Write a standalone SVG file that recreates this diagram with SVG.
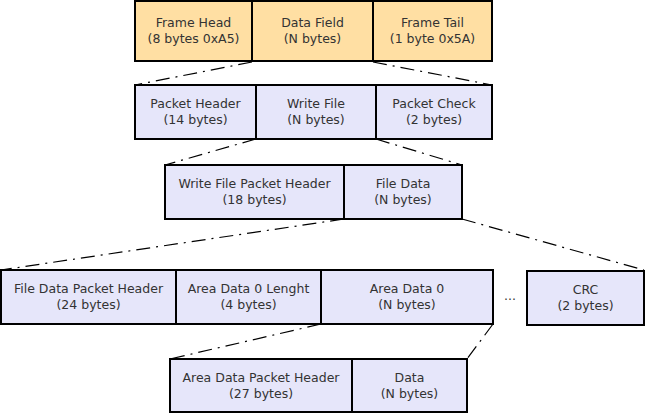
<svg xmlns="http://www.w3.org/2000/svg" width="648" height="416" viewBox="0 0 648 416">
<style>
.o{fill:#FFDFA3;stroke:#000;stroke-width:2}
.b{fill:#E6E6FA;stroke:#000;stroke-width:2}
text{font-family:"DejaVu Sans",sans-serif;font-size:12.5px;fill:#333;text-anchor:middle}
.c line{stroke:#000;stroke-width:1.2;stroke-dasharray:14,6,2,6;fill:none}
</style>
<rect width="648" height="416" fill="#fff"/>
<g class="c" id="connectors">
<line x1="252" y1="62" x2="135" y2="85"/>
<line x1="373" y1="62" x2="492" y2="85"/>
<line x1="256" y1="139" x2="165" y2="165"/>
<line x1="376" y1="139" x2="462" y2="165"/>
<line x1="344" y1="219" x2="1" y2="270"/>
<line x1="462" y1="219" x2="644" y2="270"/>
<line x1="321" y1="324" x2="170" y2="359"/>
<line x1="493" y1="324" x2="467" y2="359"/>
</g>
<g id="frame-head"><rect class="o" x="135" y="1" width="117" height="60"/><text x="193.5" y="27">Frame Head</text><text x="193.5" y="43">(8 bytes 0xA5)</text></g>
<g id="data-field"><rect class="o" x="252" y="1" width="121" height="60"/><text x="312.5" y="27">Data Field</text><text x="312.5" y="43">(N bytes)</text></g>
<g id="frame-tail"><rect class="o" x="373" y="1" width="119" height="60"/><text x="432.5" y="27">Frame Tail</text><text x="432.5" y="43">(1 byte 0x5A)</text></g>
<g id="packet-header"><rect class="b" x="135" y="85" width="121" height="54"/><text x="195.5" y="108">Packet Header</text><text x="195.5" y="124">(14 bytes)</text></g>
<g id="write-file"><rect class="b" x="256" y="85" width="120" height="54"/><text x="316" y="108">Write File</text><text x="316" y="124">(N bytes)</text></g>
<g id="packet-check"><rect class="b" x="376" y="85" width="116" height="54"/><text x="434" y="108">Packet Check</text><text x="434" y="124">(2 bytes)</text></g>
<g id="wf-packet-header"><rect class="b" x="165" y="165" width="179" height="54"/><text x="254.5" y="188">Write File Packet Header</text><text x="254.5" y="204">(18 bytes)</text></g>
<g id="file-data"><rect class="b" x="344" y="165" width="118" height="54"/><text x="403" y="188">File Data</text><text x="403" y="204">(N bytes)</text></g>
<g id="fd-packet-header"><rect class="b" x="1" y="270" width="175" height="54"/><text x="88.5" y="293">File Data Packet Header</text><text x="88.5" y="309">(24 bytes)</text></g>
<g id="area-len"><rect class="b" x="176" y="270" width="145" height="54"/><text x="248.5" y="293">Area Data 0 Lenght</text><text x="248.5" y="309">(4 bytes)</text></g>
<g id="area-data"><rect class="b" x="321" y="270" width="172" height="54"/><text x="407" y="293">Area Data 0</text><text x="407" y="309">(N bytes)</text></g>
<g id="ellipsis"><text x="510" y="300">...</text></g>
<g id="crc"><rect class="b" x="527" y="271" width="117" height="54"/><text x="585.5" y="294">CRC</text><text x="585.5" y="310">(2 bytes)</text></g>
<g id="ad-packet-header"><rect class="b" x="170" y="359" width="182" height="53"/><text x="261" y="382">Area Data Packet Header</text><text x="261" y="398">(27 bytes)</text></g>
<g id="data"><rect class="b" x="352" y="359" width="115" height="53"/><text x="409.5" y="382">Data</text><text x="409.5" y="398">(N bytes)</text></g>
</svg>
